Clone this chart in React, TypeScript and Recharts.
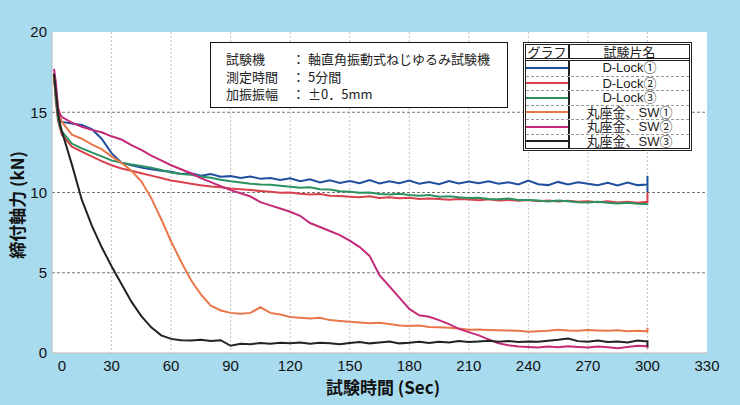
import React from "react";
import { LineChart, Line, XAxis, YAxis, CartesianGrid, Label } from "recharts";

const time = [
  1, 2, 3, 4, 5, 10, 15, 20, 25, 30, 35, 40, 45, 50, 55, 60, 65, 70, 75, 80,
  85, 90, 95, 100, 105, 110, 115, 120, 125, 130, 135, 140, 145, 150, 155, 160,
  165, 170, 175, 180, 185, 190, 195, 200, 205, 210, 215, 220, 225, 230, 235,
  240, 245, 250, 255, 260, 265, 270, 275, 280, 285, 290, 295, 300, 300, 300,
];

const dlock1 = [
  17.4, 16.0, 14.8, 14.5, 14.4,
  14.3, 14.2, 13.95, 13.35, 12.45, 11.85, 11.7, 11.55, 11.45, 11.35,
  11.3, 11.15, 11.2, 11.05, 11.15, 10.98, 11.02, 10.9, 11.0, 10.85,
  10.9, 10.78, 10.88, 10.7, 10.82, 10.62, 10.76, 10.6, 10.72, 10.58,
  10.78, 10.56, 10.7, 10.58, 10.74, 10.55, 10.66, 10.52, 10.72, 10.56,
  10.68, 10.58, 10.7, 10.54, 10.64, 10.5, 10.74, 10.52, 10.46, 10.66,
  10.5, 10.64, 10.54, 10.46, 10.6, 10.44, 10.62, 10.46,
  10.5, 11.05, 10.0,
];

const dlock2 = [
  17.2, 15.6, 14.5, 14.0, 13.6,
  12.85, 12.55, 12.25, 11.95, 11.7, 11.5, 11.35, 11.2, 11.05, 10.9,
  10.75, 10.65, 10.55, 10.45, 10.38, 10.32, 10.25, 10.2, 10.15, 10.1,
  10.05, 9.98, 10.0, 9.92, 9.88, 9.9, 9.8, 9.78, 9.74, 9.7,
  9.76, 9.66, 9.7, 9.64, 9.68, 9.6, 9.62, 9.6, 9.55, 9.6,
  9.56, 9.52, 9.58, 9.5, 9.54, 9.48, 9.53, 9.46, 9.5, 9.44,
  9.48, 9.42, 9.45, 9.4, 9.46, 9.38, 9.43, 9.36,
  9.42, 10.0, 9.35,
];

const dlock3 = [
  17.3, 15.8, 14.7, 14.1, 13.8,
  13.05, 12.75, 12.5, 12.25, 12.0, 11.85, 11.75, 11.65, 11.55, 11.4,
  11.25, 11.15, 11.1, 11.0, 10.92, 10.8, 10.7, 10.62, 10.55, 10.5,
  10.48, 10.42, 10.36, 10.3, 10.32, 10.2, 10.18, 10.08, 10.05, 9.98,
  10.0, 9.9, 9.88, 9.92, 9.84, 9.8, 9.84, 9.74, 9.76, 9.7,
  9.66, 9.68, 9.6, 9.58, 9.62, 9.54, 9.53, 9.5, 9.44, 9.5,
  9.45, 9.4, 9.37, 9.42, 9.36, 9.32, 9.36, 9.3,
  9.28, 9.3, 9.22,
];

const sw1 = [
  17.3, 16.3, 15.3, 14.7, 14.4,
  13.6, 13.35, 13.0, 12.7, 12.25, 11.85, 11.35, 10.7, 9.65, 8.35,
  6.95, 5.7, 4.55, 3.65, 2.95, 2.65, 2.5, 2.45, 2.5, 2.85,
  2.5, 2.4, 2.25, 2.2, 2.15, 2.2, 2.05, 2.0, 1.95, 1.9,
  1.85, 1.88, 1.8, 1.72, 1.68, 1.72, 1.62, 1.6, 1.58, 1.52,
  1.45, 1.47, 1.44, 1.42, 1.4, 1.38, 1.33, 1.35, 1.38, 1.45,
  1.4, 1.38, 1.43, 1.4, 1.38, 1.42, 1.35, 1.38,
  1.35, 1.58, 1.35,
];

const sw2 = [
  17.7, 16.8, 15.3, 14.9, 14.7,
  14.35, 14.1, 13.9, 13.75, 13.5, 13.3, 12.95, 12.65, 12.3, 12.0,
  11.7, 11.45, 11.2, 10.9, 10.65, 10.4, 10.15, 9.95, 9.75, 9.4,
  9.2, 9.0, 8.8, 8.55, 8.1, 7.85, 7.6, 7.35, 7.0, 6.6,
  6.05, 4.85, 4.15, 3.45, 2.75, 2.35, 2.26, 2.05, 1.8, 1.5,
  1.3, 1.1, 0.85, 0.6, 0.48, 0.4, 0.38, 0.35, 0.4, 0.36,
  0.42, 0.38, 0.35, 0.4, 0.36, 0.3, 0.38, 0.45,
  0.42, 0.45, 0.3,
];

const sw3 = [
  17.4, 16.2, 15.0, 14.3, 13.8,
  11.75, 9.55, 7.95, 6.6, 5.4, 4.3, 3.2, 2.3, 1.6, 1.1,
  0.88, 0.8, 0.78, 0.82, 0.75, 0.8, 0.45, 0.58, 0.55, 0.62,
  0.58, 0.64, 0.6, 0.66, 0.58, 0.64, 0.6, 0.55, 0.62, 0.68,
  0.6, 0.66, 0.72, 0.6, 0.64, 0.7, 0.62, 0.7, 0.66, 0.74,
  0.68, 0.72, 0.76, 0.7, 0.74, 0.68, 0.72, 0.7, 0.76, 0.82,
  0.9, 0.74, 0.7, 0.78, 0.68, 0.72, 0.66, 0.78,
  0.72, 0.8, 0.4,
];

const xTicks = [0, 30, 60, 90, 120, 150, 180, 210, 240, 270, 300, 330];
const yTicks = [0, 5, 10, 15, 20];

const series = [
  { key: "d1", name: "D-Lock①", color: "#1f4f9e", values: dlock1 },
  { key: "d2", name: "D-Lock②", color: "#d9424c", values: dlock2 },
  { key: "d3", name: "D-Lock③", color: "#2c9160", values: dlock3 },
  { key: "s1", name: "丸座金、SW①", color: "#e8784a", values: sw1 },
  { key: "s2", name: "丸座金、SW②", color: "#c42a78", values: sw2 },
  { key: "s3", name: "丸座金、SW③", color: "#222222", values: sw3 },
];

const info = [
  ["試験機", "軸直角振動式ねじゆるみ試験機"],
  ["測定時間", "5分間"],
  ["加振振幅", "±0．5mm"],
];

const rows = time.map((t, i) => {
  const r: Record<string, number> = { t };
  series.forEach((s) => (r[s.key] = s.values[i]));
  return r;
});

const FONT = "'Liberation Sans', 'Noto Sans CJK JP', sans-serif";
const JP = "'Noto Sans CJK JP', 'Liberation Sans', sans-serif";

function XTick(props: any) {
  const { x, y, payload } = props;
  const shift = payload.value === 0 ? 10 : 0;
  return (
    <text x={x + shift} y={y} dy="0.71em" textAnchor="middle" fill="#111" fontSize={15} fontFamily={FONT}>
      {payload.value}
    </text>
  );
}

export default function App() {
  return (
    <div
      style={{
        position: "absolute",
        left: 0,
        top: 0,
        width: 740,
        height: 405,
        background: "#a9dbee",
        fontFamily: FONT,
      }}
    >
      <LineChart width={740} height={405} data={rows} margin={{ top: 32, right: 33, bottom: 0, left: 0 }}>
        <CartesianGrid
          fill="#ffffff"
          stroke="#c4c4c4"
          strokeDasharray="2 2"
          horizontal={false}
          verticalValues={[30, 60, 90, 120, 150, 180, 210, 240, 270, 300]}
        />
        <CartesianGrid stroke="#777" strokeDasharray="3 2" vertical={false} horizontalValues={[5, 10, 15]} />
        <XAxis
          type="number"
          dataKey="t"
          domain={[0, 330]}
          ticks={xTicks}
          interval={0}
          height={52}
          tickSize={0}
          tickMargin={7}
          axisLine={{ stroke: "#bbb" }}
          tick={<XTick />}
        >
          <Label
            content={() => (
              <text x={383} y={394} textAnchor="middle" fontSize={17} fontWeight="bold" fill="#111" fontFamily={JP}>
                試験時間 (Sec)
              </text>
            )}
          />
        </XAxis>
        <YAxis
          type="number"
          domain={[0, 20]}
          ticks={yTicks}
          interval={0}
          width={52}
          tickSize={0}
          tickMargin={5}
          axisLine={{ stroke: "#bbb" }}
          tick={{ fill: "#111", fontSize: 15, fontFamily: FONT }}
        >
          <Label
            content={() => (
              <text
                transform="translate(16,205) rotate(-90)"
                textAnchor="middle"
                dominantBaseline="central"
                fontSize={17}
                fontWeight="bold"
                fill="#111"
                fontFamily={JP}
              >
                締付軸力 (kN)
              </text>
            )}
          />
        </YAxis>
        {series.map((s) => (
          <Line
            key={s.key}
            dataKey={s.key}
            name={s.name}
            type="linear"
            stroke={s.color}
            strokeWidth={2}
            dot={false}
            isAnimationActive={false}
          />
        ))}
      </LineChart>

      {/* test condition box */}
      <div
        style={{
          position: "absolute",
          left: 210,
          top: 42,
          width: 298,
          height: 66,
          boxSizing: "border-box",
          border: "1.5px solid #111",
          background: "#fff",
          padding: "7px 0 0 15px",
          fontFamily: JP,
          fontSize: 13,
          color: "#222",
        }}
      >
        {info.map(([k, v]) => (
          <div key={k} style={{ display: "flex", height: 17.5, lineHeight: "17.5px" }}>
            <span style={{ width: 66 }}>{k}</span>
            <span style={{ width: 13 }}>：</span>
            <span style={{ marginLeft: 3 }}>{v}</span>
          </div>
        ))}
      </div>

      {/* legend table */}
      <div
        style={{
          position: "absolute",
          left: 523,
          top: 42,
          width: 169,
          height: 109,
          boxSizing: "border-box",
          border: "3px double #222",
          background: "#fff",
          fontFamily: FONT,
          fontSize: 13,
          color: "#222",
        }}
      >
        <div style={{ display: "flex", height: 13, lineHeight: "13px", borderBottom: "3px double #222" }}>
          <div style={{ width: 42, borderRight: "2px solid #222", textAlign: "center", fontFamily: JP }}>グラフ</div>
          <div style={{ flex: 1, textAlign: "center", fontFamily: JP }}>試験片名</div>
        </div>
        {series.map((s, i) => (
          <div
            key={s.key}
            style={{
              display: "flex",
              height: 14.5,
              lineHeight: "14.5px",
              boxSizing: "border-box",
              borderTop: i === 0 ? "none" : "1px dashed #999",
            }}
          >
            <div style={{ width: 42, borderRight: "2px solid #222", position: "relative" }}>
              <div
                style={{
                  position: "absolute",
                  left: 0,
                  right: 0,
                  top: "50%",
                  height: 2,
                  marginTop: -1,
                  background: s.color,
                }}
              />
            </div>
            <div style={{ flex: 1, textAlign: "center" }}>{s.name}</div>
          </div>
        ))}
      </div>
    </div>
  );
}
